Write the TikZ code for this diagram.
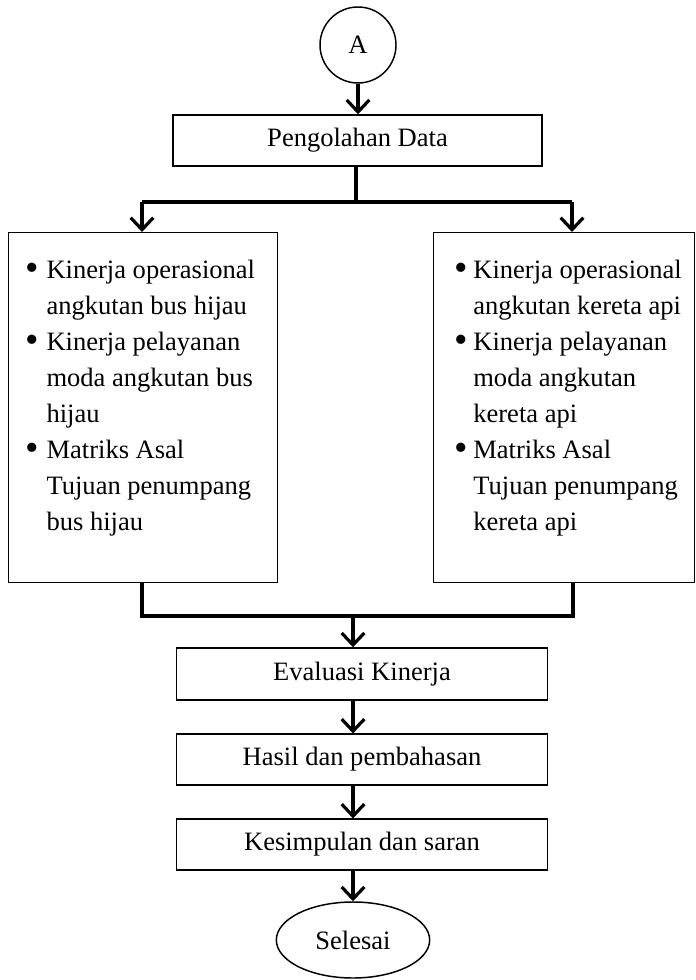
\documentclass[tikz,border=0pt]{standalone}
\usepackage{fontspec}
\usepackage{graphicx}
\setmainfont{Liberation Serif}
\usetikzlibrary{arrows.meta,shapes.geometric}
\newcommand{\bigbul}{\raisebox{-1.7pt}{\scalebox{1.45}{\textbullet}}}
\tikzset{
  box/.style={draw, line width=1.1pt, rectangle, inner sep=0pt},
  conn/.style={line width=2.4pt, line cap=butt, line join=miter},
  arr/.style={conn, -{Straight Barb[length=9pt,width=17pt,line width=2.4pt]}},
  lbl/.style={font=\fontsize{19.9pt}{27pt}\selectfont},
}
\begin{document}
\begin{tikzpicture}[x=0.75pt,y=-0.75pt]
\useasboundingbox (0,0) rectangle (695,980);
% start
\node[draw, line width=1.1pt, circle, minimum size=57pt, inner sep=0pt, lbl] (A) at (358,45) {A};
\node[box, minimum width=276.75pt, minimum height=38.25pt, lbl] (peng) at (357.5,140.5) {Pengolahan Data};
\draw[arr] (A) -- (A |- peng.north);
% split
\coordinate (split) at (356,202);
\coordinate (sl) at (142,202);
\coordinate (sr) at (572,202);
\draw[conn] (peng.south -| split) -- (split);
\draw[conn] (sl) -- (sr);
% big boxes
\node[box, minimum width=201.75pt, minimum height=262.5pt, anchor=north west] (L) at (8,232) {};
\node[box, minimum width=195.75pt, minimum height=262.5pt, anchor=north west] (R) at (433,232) {};
\draw[arr] (sl) -- (sl |- L.north);
\draw[arr] (sr) -- (sr |- R.north);
\node[anchor=base west, inner sep=0pt, lbl] (Ltext) at (25.5,278) {%
\begin{tabular}[t]{@{}p{15.6pt}@{}l@{}}
\bigbul & Kinerja operasional\\
 & angkutan bus hijau\\
\bigbul & Kinerja pelayanan\\
 & moda angkutan bus\\
 & hijau\\
\bigbul & Matriks Asal\\
 & Tujuan penumpang\\
 & bus hijau
\end{tabular}};
\node[anchor=base west, inner sep=0pt, lbl] (Rtext) at (454,278) {%
\begin{tabular}[t]{@{}p{14.3pt}@{}l@{}}
\bigbul & Kinerja operasional\\
 & angkutan kereta api\\
\bigbul & Kinerja pelayanan\\
 & moda angkutan\\
 & kereta api\\
\bigbul & Matriks Asal\\
 & Tujuan penumpang\\
 & kereta api
\end{tabular}};
% merge
\coordinate (ml) at (142,616);
\coordinate (mr) at (573,616);
\coordinate (merge) at (353,616);
\draw[conn] (ml |- L.south) -- (ml) -- (mr) -- (mr |- R.south);
% lower boxes
\node[box, minimum width=278pt, minimum height=39pt, lbl] (eval) at (362,674) {Evaluasi Kinerja};
\node[box, minimum width=278pt, minimum height=38pt, lbl] (hasil) at (362,759.5) {Hasil dan pembahasan};
\node[box, minimum width=278pt, minimum height=38pt, lbl] (kes) at (362,844.5) {Kesimpulan dan saran};
\node[draw, line width=1.1pt, ellipse, minimum width=115pt, minimum height=57pt, inner sep=0pt, lbl] (end) at (353,940) {Selesai};
\draw[arr] (merge) -- (merge |- eval.north);
\draw[arr] (merge |- eval.south) -- (merge |- hasil.north);
\draw[arr] (merge |- hasil.south) -- (merge |- kes.north);
\draw[arr] (merge |- kes.south) -- (end);
\end{tikzpicture}
\end{document}
